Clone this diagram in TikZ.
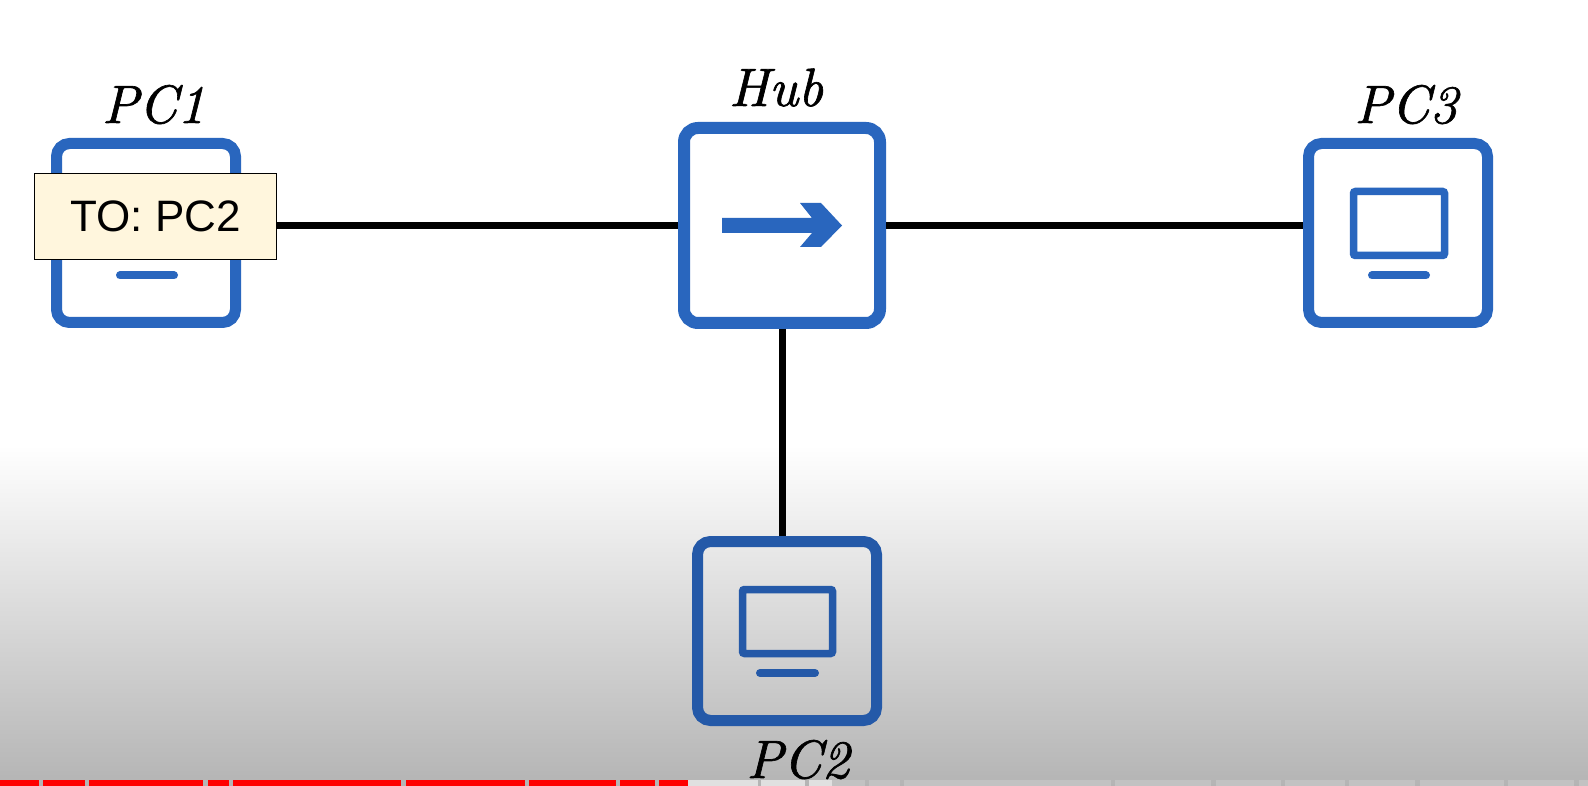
\documentclass[tikz,border=0pt]{standalone}
\usepackage{fontspec}
\newfontfamily\labelsans{Liberation Sans}
\newfontfamily\handfont[FakeBold=1.2]{lmroman10-italic.otf}
\definecolor{devblue}{HTML}{2966BE}
\definecolor{devdark}{HTML}{2459A8}
\definecolor{notefill}{HTML}{FFF6DD}
\definecolor{shadeend}{HTML}{B4B4B4}
\definecolor{barlight}{HTML}{E0E0E0}
\definecolor{bardim}{HTML}{C2C2C2}
\tikzset{
  devbox/.style={draw=#1,line width=11pt,rounded corners=13pt,minimum width=179pt,minimum height=179pt,inner sep=0pt},
  hubbox/.style={draw=devblue,line width=12pt,rounded corners=14pt,minimum width=196pt,minimum height=195pt,inner sep=0pt},
  wire/.style={draw=black,line width=7pt},
  screen/.style={draw=#1,line width=7.5pt,rounded corners=2pt},
  standbar/.style={draw=#1,line width=8pt,line cap=round},
  handlabel/.style={font=\fontsize{54}{54}\selectfont\handfont,anchor=base,inner sep=0pt,text=black},
  notebox/.style={draw=black,line width=1pt,fill=notefill,minimum width=242pt,minimum height=86pt,inner sep=0pt,font=\labelsans\fontsize{44}{44}\selectfont},
}
\begin{document}
\begin{tikzpicture}[x=1pt,y=-1pt]
\useasboundingbox (0,0) rectangle (1588,786);
\fill[white] (0,0) rectangle (1588,446);
\shade[top color=white,bottom color=shadeend] (0,445) rectangle (1588,786);
% bottom progress bar
\foreach \a/\b in {0/39,43/85,89/203,208/229,233/401,406/525,529/616,620/655,659/688}
  \fill[red] (\a,780) rectangle (\b,786);
\foreach \a/\b in {688/758,761/805,809/832}
  \fill[barlight] (\a,780) rectangle (\b,786);
\foreach \a/\b in {832/865,869/900,904/1111,1115/1211,1216/1281,1285/1345,1349/1415,1420/1504,1508/1574,1579/1588}
  \fill[bardim] (\a,780) rectangle (\b,786);
% devices
\node[devbox=devblue,fill=white] (pc1) at (146,233) {};
\node[devbox=devblue,fill=white] (pc3) at (1398,233) {};
\node[devbox=devdark] (pc2) at (787,631) {};
\node[hubbox,fill=white] (hub) at (782,225.5) {};
% connectors
\draw[wire] (pc1.east |- hub.west) -- (hub.west);
\draw[wire] (hub.east) -- (pc3.west |- hub.east);
\draw[wire] (hub.south) -- (hub.south |- pc2.north);
% hub arrow
\fill[devblue] (722,218) -- (812,218) -- (800,203) -- (821,203) -- (842,225.5) -- (821,247) -- (800,247) -- (812,233) -- (722,233) -- cycle;
% monitors
\draw[screen=devblue] (1353.5,191.5) rectangle (1444.5,255.5);
\draw[standbar=devblue] (1372,275.5) -- (1426,275.5);
\draw[screen=devdark] (742.5,589.5) rectangle (832.5,653.5);
\draw[standbar=devdark] (760,673) -- (815,673);
\draw[standbar=devblue] (120,275.5) -- (174,275.5);
% message
\node[notebox] (msg) at (155.5,216.5) {TO: PC2};
% labels
\node[handlabel] (lpc1) at (153.5,123) {PC1};
\node[handlabel] (lhub) at (776,106) {Hub};
\node[handlabel] (lpc3) at (1406,123) {PC3};
\node[handlabel] (lpc2) at (798,778) {PC2};
\end{tikzpicture}
\end{document}
